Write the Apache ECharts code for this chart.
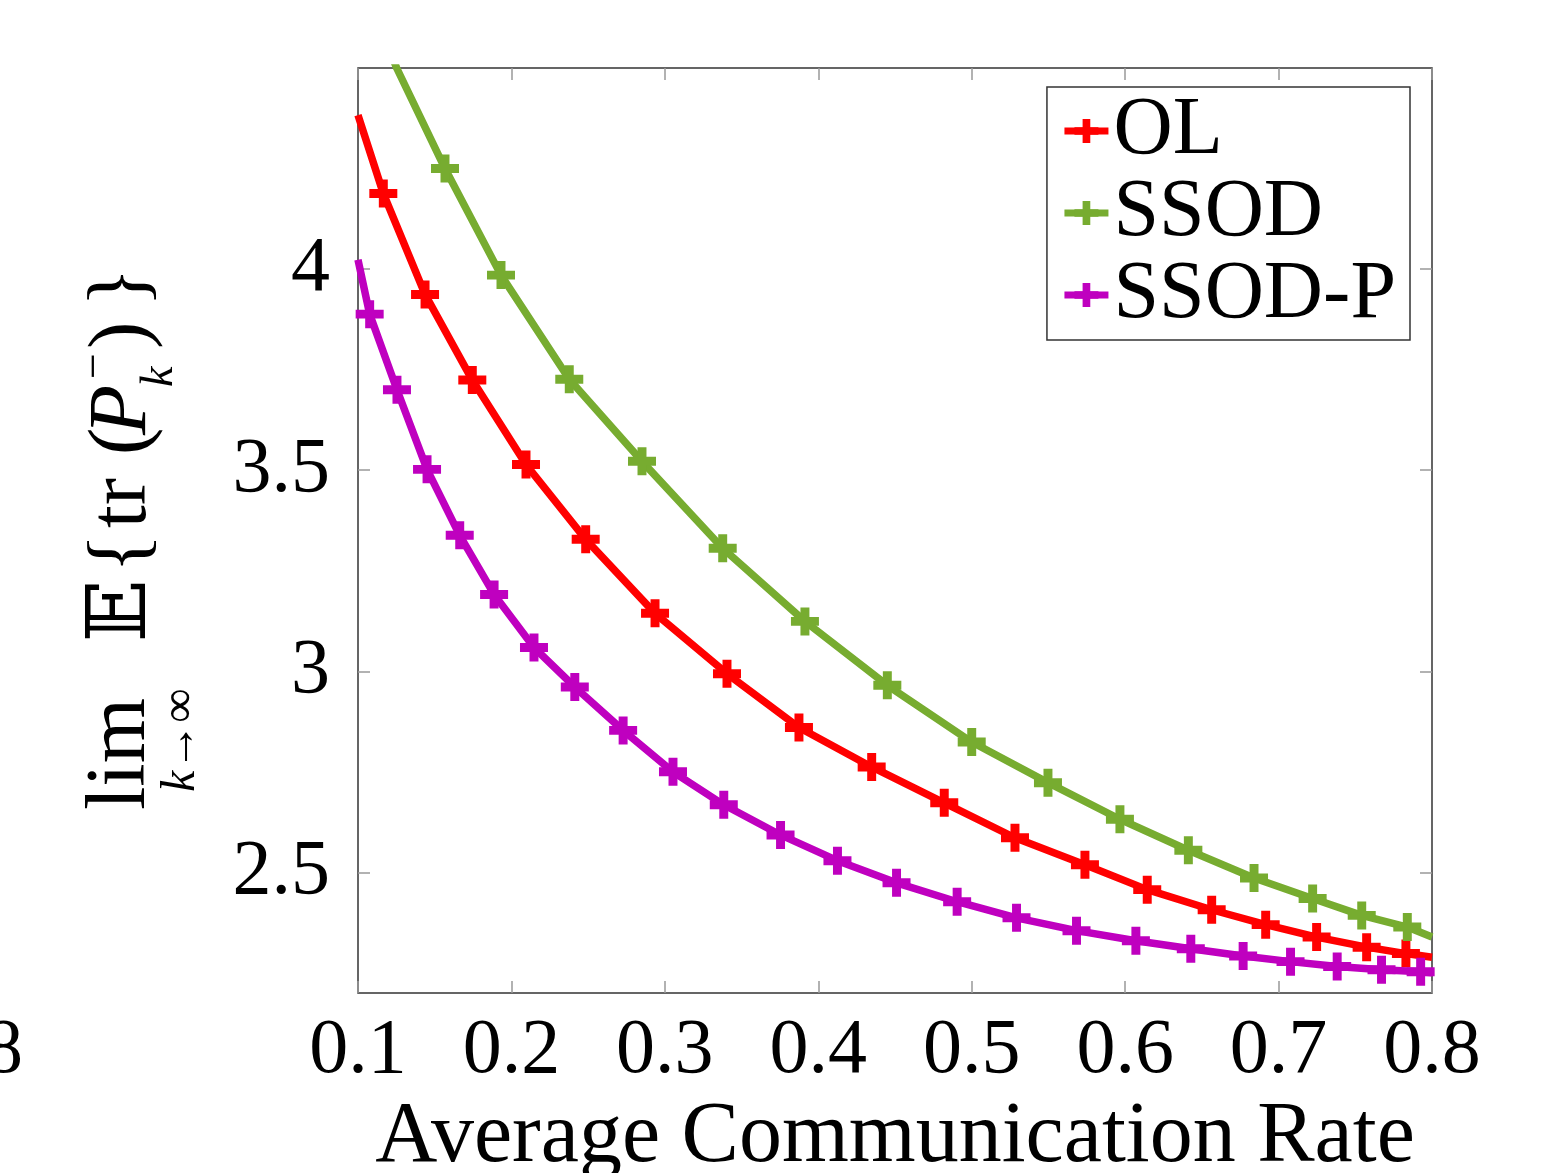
<!DOCTYPE html>
<html>
<head>
<meta charset="utf-8">
<script src="https://cdn.jsdelivr.net/npm/echarts@6/dist/echarts.min.js"></script>
<style>
html,body{margin:0;padding:0;background:#fff;}
#chart{width:1548px;height:1173px;}
</style>
</head>
<body>
<div id="chart"></div>
<script>
// ---- data ----
var seriesNames = ['OL', 'SSOD', 'SSOD-P'];
var xTicks = [0.1, 0.2, 0.3, 0.4, 0.5, 0.6, 0.7, 0.8];
var yTicks = [2.5, 3, 3.5, 4];

// OL (red)
var olX = [0.1, 0.1165, 0.1437, 0.1745, 0.2095, 0.2484, 0.2936, 0.3405, 0.3874, 0.4348, 0.4821, 0.5282, 0.5738, 0.6144, 0.6564, 0.6916, 0.7248, 0.7574, 0.7830, 0.8];
var olY = [4.383, 4.188, 3.937, 3.724, 3.514, 3.328, 3.144, 2.994, 2.860, 2.762, 2.673, 2.586, 2.519, 2.457, 2.407, 2.370, 2.339, 2.314, 2.298, 2.289];
var olMarked = [0, 1, 1, 1, 1, 1, 1, 1, 1, 1, 1, 1, 1, 1, 1, 1, 1, 1, 1, 0];

// SSOD (green)
var ssodX = [0.1, 0.1252, 0.1567, 0.1932, 0.2377, 0.2851, 0.3377, 0.3913, 0.4450, 0.5000, 0.5497, 0.5966, 0.6412, 0.6840, 0.7222, 0.7542, 0.7839, 0.8];
var ssodY = [4.74, 4.50, 4.250, 3.985, 3.726, 3.522, 3.306, 3.124, 2.965, 2.824, 2.723, 2.632, 2.555, 2.486, 2.435, 2.393, 2.364, 2.339];
var ssodMarked = [0, 0, 1, 1, 1, 1, 1, 1, 1, 1, 1, 1, 1, 1, 1, 1, 1, 0];

// SSOD-P (purple)
var ssodpX = [0.1, 0.1076, 0.1254, 0.1450, 0.1663, 0.1887, 0.2147, 0.2413, 0.2728, 0.3053, 0.3384, 0.3754, 0.4125, 0.4510, 0.4905, 0.5292, 0.5683, 0.6070, 0.6428, 0.6769, 0.7078, 0.7382, 0.7671, 0.7926, 0.8];
var ssodpY = [4.023, 3.888, 3.700, 3.502, 3.338, 3.191, 3.059, 2.961, 2.853, 2.750, 2.668, 2.593, 2.529, 2.474, 2.427, 2.387, 2.355, 2.330, 2.310, 2.292, 2.278, 2.266, 2.258, 2.253, 2.250];
var ssodpMarked = [0, 1, 1, 1, 1, 1, 1, 1, 1, 1, 1, 1, 1, 1, 1, 1, 1, 1, 1, 1, 1, 1, 1, 1, 0];

var colors = ['#ff0000', '#77ac30', '#bf00bf'];
var FONT = '"Liberation Serif", "DejaVu Serif", serif';
var PLUS = 'path://M34,0H66V34H100V66H66V100H34V66H0V34H34Z';

function build(xs, ys, marked) {
  return xs.map(function (x, i) {
    var d = { value: [x, ys[i]] };
    if (!marked[i]) d.symbol = 'none';
    return d;
  });
}

var allData = [build(olX, olY, olMarked), build(ssodX, ssodY, ssodMarked), build(ssodpX, ssodpY, ssodpMarked)];

var chart = echarts.init(document.getElementById('chart'), null, { renderer: 'canvas' });

var series = seriesNames.map(function (n, i) {
  return {
    name: n,
    type: 'line',
    data: allData[i],
    clip: true,
    smooth: false,
    symbol: PLUS,
    symbolSize: 28,
    showAllSymbol: true,
    lineStyle: { color: colors[i], width: 7.5 },
    itemStyle: { color: colors[i], borderWidth: 0 },
    emphasis: { disabled: true },
    z: 2 + i
  };
});

function txt(t, lx, ly, size, italic) {
  return {
    type: 'text', x: lx, y: ly,
    style: { text: t, font: (italic ? 'italic ' : '') + size + 'px ' + FONT, fill: '#000', verticalAlign: 'middle', align: 'left' }
  };
}

var option = {
  animation: false,
  backgroundColor: '#fff',
  grid: { left: 358, right: 116, top: 68, bottom: 180, outerBoundsMode: 'none', containLabel: false, show: true, borderColor: '#333', borderWidth: 1.5, backgroundColor: 'transparent' },
  legend: {
    data: seriesNames,
    orient: 'vertical',
    right: 138,
    top: 87,
    padding: [3, 14, 4, 14],
    itemGap: 0,
    itemWidth: 44,
    itemHeight: 30,
    lineStyle: { width: 7 },
    borderColor: '#333',
    borderWidth: 1.5,
    backgroundColor: '#fff',
    textStyle: { fontFamily: FONT, fontSize: 82, color: '#000', lineHeight: 77, padding: [0, 0, 0, 0] }
  },
  xAxis: [{
    type: 'value', min: 0.1, max: 0.8, interval: 0.1, position: 'bottom',
    axisLine: { show: false },
    axisTick: { show: true, inside: true, length: 12, lineStyle: { color: '#999', width: 1.5 } },
    splitLine: { show: false },
    axisLabel: { fontFamily: FONT, fontSize: 78, color: '#000', margin: 20, formatter: function (v) { return v.toFixed(1); } },
    name: 'Average Communication Rate', nameLocation: 'middle', nameGap: 102,
    nameTextStyle: { fontFamily: FONT, fontSize: 86, color: '#000' }
  }, {
    type: 'value', min: 0.1, max: 0.8, interval: 0.1, position: 'top',
    axisLine: { show: false },
    axisTick: { show: true, inside: true, length: 12, lineStyle: { color: '#999', width: 1.5 } },
    splitLine: { show: false },
    axisLabel: { show: false }
  }],
  yAxis: [{
    type: 'value', min: 2.2, max: 4.5, position: 'left',
    axisLine: { show: false },
    axisTick: { show: true, inside: true, length: 12, customValues: yTicks, lineStyle: { color: '#999', width: 1.5 } },
    splitLine: { show: false },
    axisLabel: { fontFamily: FONT, fontSize: 78, color: '#000', margin: 28, customValues: yTicks }
  }, {
    type: 'value', min: 2.2, max: 4.5, position: 'right',
    axisLine: { show: false },
    axisTick: { show: true, inside: true, length: 12, customValues: yTicks, lineStyle: { color: '#999', width: 1.5 } },
    splitLine: { show: false },
    axisLabel: { show: false, customValues: yTicks }
  }],
  series: series,
  graphic: [
    {
      type: 'text', x: 23, y: 1052,
      style: { text: '0.8', font: '78px ' + FONT, fill: '#000', align: 'right', verticalAlign: 'middle' }
    },
    {
      type: 'group', x: 80, y: 815, rotation: Math.PI / 2,
      children: [
        txt('lim', 5, 42, 84, false),
        {
          type: 'text', x: 23, y: 101,
          style: {
            text: '{i|k}{n|→∞}', font: '48px ' + FONT, fill: '#000', verticalAlign: 'middle', align: 'left',
            rich: { i: { fontFamily: FONT, fontStyle: 'italic', fontSize: 48 }, n: { fontFamily: FONT, fontSize: 48 } }
          }
        },
        txt('𝔼', 173, 43, 82, false),
        txt('{', 242, 43, 82, false),
        txt('tr', 287, 43, 82, false),
        txt('(', 360, 43, 82, false),
        txt('P', 380, 43, 82, true),
        txt('k', 428, 80, 46, true),
        txt('−', 436, 16, 46, false),
        txt(')', 466, 43, 82, false),
        txt('}', 508, 43, 82, false)
      ]
    }
  ]
};
chart.setOption(option);
</script>
</body>
</html>
